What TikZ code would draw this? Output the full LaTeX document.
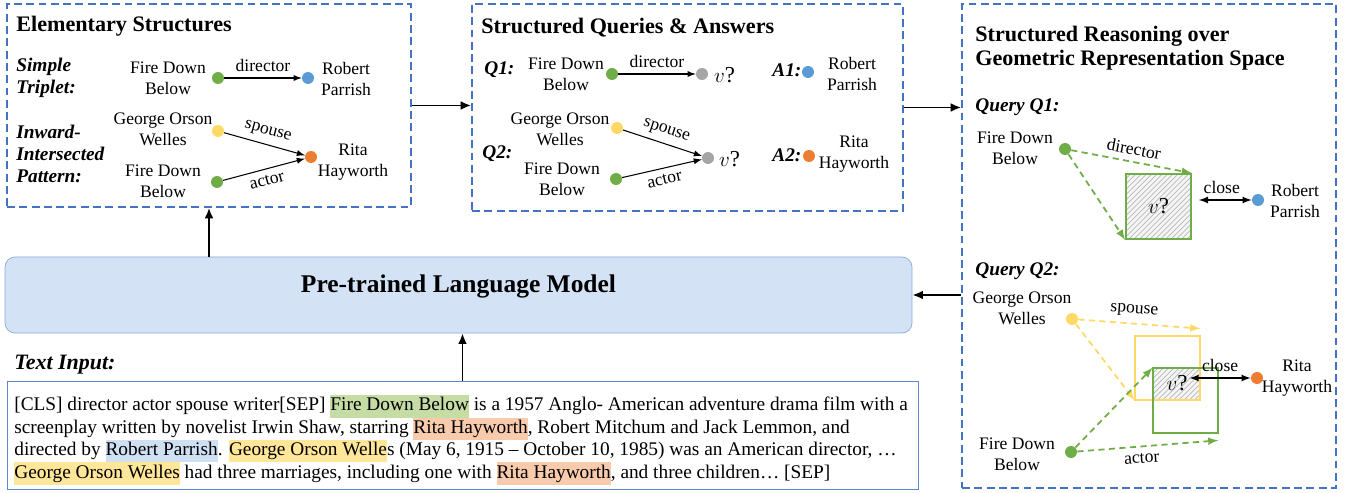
\documentclass[tikz,border=0pt]{standalone}
\usepackage{fontspec}
\setmainfont{Liberation Serif}
\usepackage{xcolor}
\usetikzlibrary{patterns,fit,arrows.meta}

\definecolor{frameblue}{HTML}{4472C4}
\definecolor{dotgreen}{HTML}{70AD47}
\definecolor{dotblue}{HTML}{5B9BD5}
\definecolor{dotyellow}{HTML}{FFD966}
\definecolor{dotorange}{HTML}{ED7D31}
\definecolor{dotgray}{HTML}{A5A5A5}
\definecolor{lmfill}{HTML}{D3E2F5}
\definecolor{lmdraw}{HTML}{8EAADB}
\definecolor{hlgreen}{HTML}{C5DCA5}
\definecolor{hlorange}{HTML}{F8CBAD}
\definecolor{hlblue}{HTML}{D0E0F3}
\definecolor{hlyellow}{HTML}{FFE699}

\setlength{\fboxsep}{0pt}
\newcommand{\hlt}[2]{\colorbox{#1}{\strut #2}}

\begin{document}
\begin{tikzpicture}[x=0.02cm, y=-0.02cm, >=latex,
  font=\fontsize{10}{12}\selectfont,
  frame/.style={draw=frameblue, line width=0.9pt, dash pattern=on 4.5pt off 2.5pt, inner sep=0pt},
  ttl/.style={font=\fontsize{12.6}{13.6}\selectfont\bfseries, align=left, anchor=west, inner sep=0pt},
  pat/.style={font=\fontsize{11}{12.4}\selectfont\bfseries\itshape, align=left, anchor=west, inner sep=0pt},
  ent/.style={align=center, inner sep=1pt},
  dot/.style={circle, minimum size=0.24cm, inner sep=0pt},
  rel/.style={->, line width=0.6pt},
  flow/.style={-{Latex[length=6pt, width=5pt]}, line width=1.1pt},
  dsh/.style={->, line width=1pt, dash pattern=on 3.5pt off 2.5pt},
  vbox/.style={draw, line width=1pt, inner sep=0pt},
  hatch/.style={preaction={fill=gray!8}, pattern=north east lines, pattern color=gray!55},
  vq/.style={font=\fontsize{13}{14}\selectfont, inner sep=1pt},
]
\useasboundingbox (0,0) rectangle (1349,493);

% elementary structures
\node[frame, fit={(7,4) (411,207)}] (box1) {};
\node[ttl] (t1) at (16,26) {Elementary Structures};
\node[pat] (st) at (16,78) {Simple\\Triplet:};
\node[ent] (fdb1) at (168,78) {Fire Down\\Below};
\node[dot, fill=dotgreen] (g1) at (218,78) {};
\node[dot, fill=dotblue] (b1) at (308,78) {};
\node[ent] (rp1) at (346,79) {Robert\\Parrish};
\draw[rel] (g1) -- node[above]{director} (b1);
\node[pat] (iip) at (16,154) {Inward-\\Intersected\\Pattern:};
\node[ent] (gow1) at (163,129) {George Orson\\Welles};
\node[dot, fill=dotyellow] (y1) at (218,131) {};
\node[ent] (fdb1b) at (163,181) {Fire Down\\Below};
\node[dot, fill=dotgreen] (g1b) at (217,182) {};
\node[dot, fill=dotorange] (o1) at (311,157) {};
\node[ent] (rh1) at (353,162) {Rita\\Hayworth};
\draw[rel] (y1) -- node[above, sloped]{spouse} (o1);
\draw[rel] (g1b) -- node[below, sloped]{actor} (o1);

% structured queries and answers
\node[frame, fit={(472,4) (903,211)}] (box2) {};
\node[ttl] (t2) at (481,28) {Structured Queries \& Answers};
\node[pat] (q1) at (484,70) {Q1:};
\node[ent] (fdb2) at (566,74) {Fire Down\\Below};
\node[dot, fill=dotgreen] (g2) at (612,74) {};
\node[dot, fill=dotgray] (v2) at (702,74) {};
\node[vq, anchor=west] (v2t) at (712,75) {$v$?};
\draw[rel] (g2) -- node[above]{director} (v2);
\node[pat] (a1) at (772,70) {A1:};
\node[dot, fill=dotblue] (b2) at (808,72) {};
\node[ent] (rp2) at (852,74) {Robert\\Parrish};
\node[pat] (q2) at (482,154) {Q2:};
\node[ent] (gow2) at (560,129) {George Orson\\Welles};
\node[dot, fill=dotyellow] (y2) at (617,128) {};
\node[ent] (fdb2b) at (562,179) {Fire Down\\Below};
\node[dot, fill=dotgreen] (g2b) at (616,179) {};
\node[dot, fill=dotgray] (v2b) at (708,158) {};
\node[vq, anchor=west] (v2bt) at (717,159) {$v$?};
\draw[rel] (y2) -- node[above, sloped]{spouse} (v2b);
\draw[rel] (g2b) -- node[below, sloped]{actor} (v2b);
\node[pat] (a2) at (772,155) {A2:};
\node[dot, fill=dotorange] (o2) at (809,156) {};
\node[ent] (rh2) at (854,154) {Rita\\Hayworth};

% structured reasoning
\node[frame, fit={(962,4) (1336,488)}] (box3) {};
\node[ttl] (t3) at (975,48) {Structured Reasoning over\\Geometric Representation Space};
\node[pat] (qq1) at (975,107) {Query Q1:};
\node[ent] (fdb3) at (1015,148) {Fire Down\\Below};
\node[dot, fill=dotgreen] (g3) at (1065,149) {};
\node[vbox, draw=dotgreen, hatch, minimum width=1.3cm, minimum height=1.3cm] (vq1) at (1158.5,206.5) {};
\node[vq] (vq1t) at (vq1.center) {$v$?};
\draw[dsh, dotgreen] (g3) -- node[above, sloped, text=black]{director} (vq1.north east);
\draw[dsh, dotgreen] (g3) -- (vq1.south west);
\node[dot, fill=dotblue] (b3) at (1258,200) {};
\node[ent] (rp3) at (1295,201) {Robert\\Parrish};
\draw[<->, line width=0.8pt, shorten <=4pt] (vq1.east |- b3) -- node[above]{close} (b3);

\node[pat] (qq2) at (975,271) {Query Q2:};
\node[ent] (gow3) at (1022,308) {George Orson\\Welles};
\node[dot, fill=dotyellow] (y3) at (1072,319) {};
\node[ent] (fdb3b) at (1017,454) {Fire Down\\Below};
\node[dot, fill=dotgreen] (g3b) at (1071,452) {};
\node[inner sep=0pt, minimum width=1.3cm, minimum height=1.28cm] (yb) at (1167.5,368) {};
\node[inner sep=0pt, minimum width=1.3cm, minimum height=1.3cm] (gb) at (1185.5,400.5) {};
\fill[hatch] (gb.north west) rectangle (yb.south east);
\draw[line width=1pt, dotyellow] (yb.north west) rectangle (yb.south east);
\draw[line width=1pt, dotgreen] (gb.north west) rectangle (gb.south east);
\node[vq] (vq2t) at (1177,383) {$v$?};
\draw[dsh, dotyellow] (y3) -- node[above, sloped, text=black, pos=0.45]{spouse} ([yshift=4]yb.north east);
\draw[dsh, dotyellow] (y3) -- (yb.south west);
\draw[dsh, dotgreen] (g3b) -- (gb.north west);
\draw[dsh, dotgreen] (g3b) -- node[below, sloped, text=black, pos=0.45]{actor} ([yshift=-4]gb.south east);
\node[dot, fill=dotorange] (o3) at (1257,378) {};
\node[ent] (rh3) at (1297,378) {Rita\\Hayworth};
\draw[<->, line width=0.8pt] (vq2t.east |- o3) -- node[above]{close} (o3);

% language model and text input
\node[fill=lmfill, draw=lmdraw, rounded corners=0.2cm, fit={(5,257) (912,333)}, inner sep=0pt,
  font=\fontsize{14.5}{16}\selectfont\bfseries] (plm) {Pre-trained Language Model};
\node[pat, font=\fontsize{12.5}{14}\selectfont\bfseries\itshape] (tin) at (14,365) {Text Input:};
\node[draw=frameblue!85, line width=0.5pt, fit={(7,381) (918,489)}, inner sep=0pt] (txt) {};
\node[anchor=west, inner sep=0pt, align=left, font=\fontsize{11}{12.8}\selectfont] (txtin) at (14,440) {%
[CLS] director actor spouse writer[SEP] \hlt{hlgreen}{Fire Down Below} is a 1957 Anglo- American adventure drama film with a\\
screenplay written by novelist Irwin Shaw, starring \hlt{hlorange}{Rita Hayworth}, Robert Mitchum and Jack Lemmon, and\\
directed by \hlt{hlblue}{Robert Parrish}. \hlt{hlyellow}{George Orson Welle}s (May 6, 1915 -- October 10, 1985) was an American director, …\\
\hlt{hlyellow}{George Orson Welles} had three marriages, including one with \hlt{hlorange}{Rita Hayworth}, and three children… [SEP]};

\draw[flow] (box1.east) -- (box1.east -| box2.west);
\draw[flow] (box2.east) -- (box2.east -| box3.west);
\draw[flow] (box1.south |- plm.north) -- (box1.south);
\draw[flow] (txt.north) -- (txt.north |- plm.south);
\draw[flow] (box3.west |- plm.east) -- (plm.east);
\end{tikzpicture}
\end{document}
